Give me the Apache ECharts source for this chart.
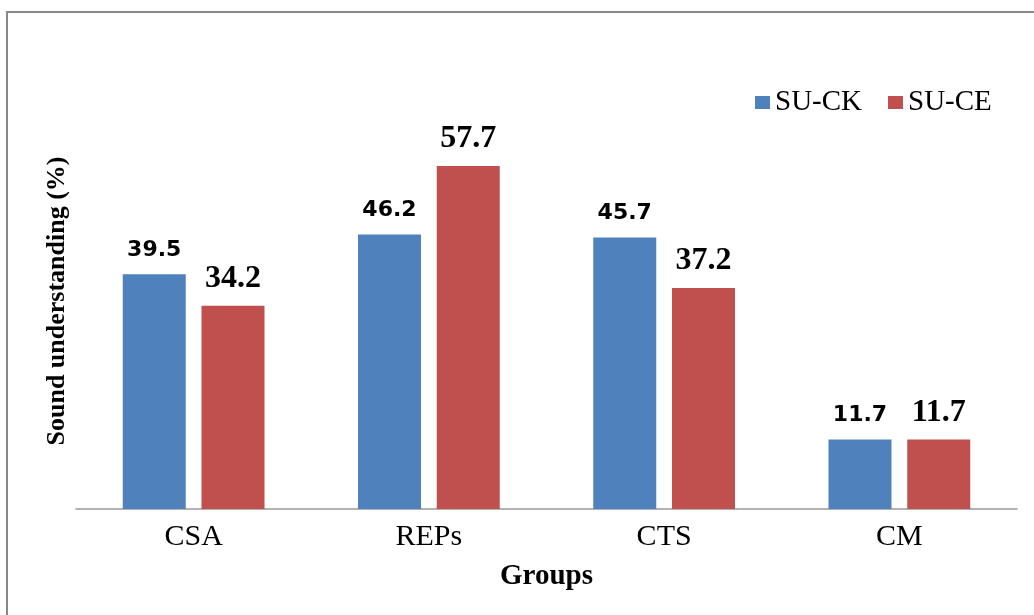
<!DOCTYPE html>
<html>
<head>
<meta charset="utf-8">
<script src="https://cdn.jsdelivr.net/npm/echarts@6/dist/echarts.min.js"></script>
<style>
  html, body { margin: 0; padding: 0; background: #fff; }
  #chart { width: 1034px; height: 615px; }
</style>
</head>
<body>
<div id="chart"></div>
<script>
// groups along the x axis
const groups = ['CSA', 'REPs', 'CTS', 'CM']
// sound understanding, %
const suCK = [39.5, 46.2, 45.7, 11.7]
const suCE = [34.2, 57.7, 37.2, 11.7]

const serif = '"Liberation Serif", "Times New Roman", serif'

const chart = echarts.init(document.getElementById('chart'))
chart.setOption({
  animation: false,
  color: ['#4F81BD', '#C0504D'],
  graphic: [{
    type: 'rect',
    shape: { x: 7, y: 12, width: 1100, height: 700 },
    style: { fill: 'none', stroke: '#888', lineWidth: 2 },
    silent: true
  }],
  legend: {
    left: 750,
    top: 83,
    itemWidth: 15,
    itemHeight: 13,
    itemGap: 26,
    icon: 'rect',
    textStyle: { fontFamily: serif, fontSize: 29, color: '#000' },
    data: ['SU-CK', 'SU-CE']
  },
  grid: {
    left: 76,
    right: 17,
    top: 93,
    bottom: 106
  },
  xAxis: {
    type: 'category',
    data: groups,
    axisTick: { show: false },
    axisLine: { lineStyle: { color: '#999', width: 1.5 } },
    axisLabel: { fontFamily: serif, fontSize: 30, color: '#000', margin: 13 },
    name: 'Groups',
    nameLocation: 'middle',
    nameGap: 53,
    nameTextStyle: { fontFamily: serif, fontSize: 29, fontWeight: 'bold', color: '#000' }
  },
  yAxis: {
    type: 'value',
    min: 0,
    max: 70,
    axisLine: { show: false },
    axisTick: { show: false },
    axisLabel: { show: false },
    splitLine: { show: false },
    name: 'Sound understanding (%)',
    nameLocation: 'middle',
    nameGap: 6,
    nameTextStyle: { fontFamily: serif, fontSize: 26, fontWeight: 'bold', color: '#000' }
  },
  series: [{
    name: 'SU-CK',
    type: 'bar',
    data: suCK,
    barWidth: 63,
    barGap: '25%',
    label: {
      show: true,
      position: 'top',
      distance: 13,
      fontFamily: '"DejaVu Sans", Verdana, sans-serif',
      fontWeight: 'bold',
      fontSize: 22,
      color: '#000'
    }
  }, {
    name: 'SU-CE',
    type: 'bar',
    data: suCE,
    barWidth: 63,
    label: {
      show: true,
      position: 'top',
      distance: 11,
      fontFamily: serif,
      fontWeight: 'bold',
      fontSize: 32,
      color: '#000'
    }
  }]
})
</script>
</body>
</html>
